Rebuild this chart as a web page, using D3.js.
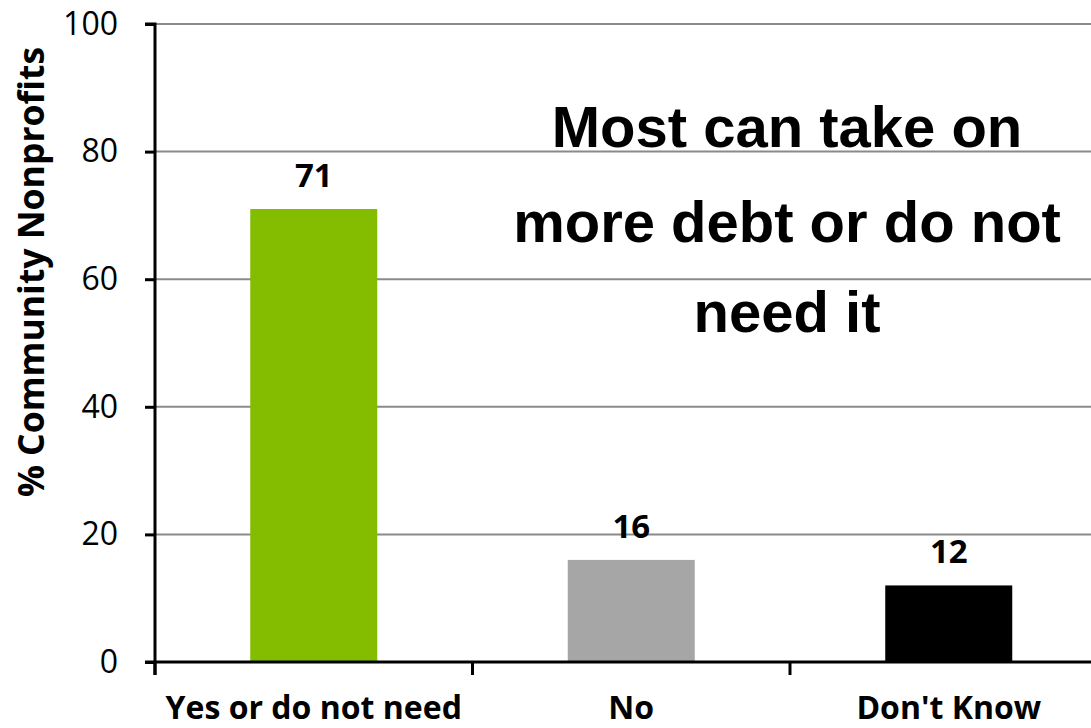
<!DOCTYPE html>
<html>
<head>
<meta charset="utf-8">
<script src="https://cdn.jsdelivr.net/npm/d3@7"></script>
<style>
  html, body { margin: 0; padding: 0; background: #fff; overflow: hidden; }
  svg { display: block; }
</style>
</head>
<body>
<svg id="chart" width="1091" height="728"></svg>
<script>
// Survey answers: can the organisation take on more debt?
const categories = ["Yes or do not need", "No", "Don't Know"];
const values = [71, 16, 12];
const barColors = ["#84bc00", "#a6a6a6", "#000000"];
const yTicks = [0, 20, 40, 60, 80, 100];
const yTitle = "% Community Nonprofits";
const noteLines = ["Most can take on", "more debt or do not", "need it"];

const svg = d3.select("#chart");
const W = 1091, H = 728;

const plot = { left: 155, right: 1107.5, top: 24, bottom: 662 };

const x = d3.scaleBand()
  .domain(categories)
  .range([plot.left, plot.right])
  .paddingInner(0.6)
  .paddingOuter(0.3);

const y = d3.scaleLinear()
  .domain([0, 100])
  .range([plot.bottom, plot.top]);

// horizontal gridlines
svg.append("g")
  .selectAll("line")
  .data(yTicks.filter(t => t > 0))
  .join("line")
  .attr("x1", plot.left)
  .attr("x2", W)
  .attr("y1", d => y(d))
  .attr("y2", d => y(d))
  .attr("stroke", "#8a8a8a")
  .attr("stroke-width", 2);

// bars
svg.append("g")
  .selectAll("rect")
  .data(values)
  .join("rect")
  .attr("x", (d, i) => x(categories[i]))
  .attr("width", x.bandwidth())
  .attr("y", d => y(d))
  .attr("height", d => y(0) - y(d))
  .attr("fill", (d, i) => barColors[i]);

// value labels above bars
svg.append("g")
  .selectAll("text")
  .data(values)
  .join("text")
  .attr("x", (d, i) => x(categories[i]) + x.bandwidth() / 2)
  .attr("y", d => y(d) - 22)
  .attr("text-anchor", "middle")
  .attr("font-family", "'Open Sans', sans-serif")
  .attr("font-weight", "bold")
  .attr("font-size", 33)
  .attr("fill", "#000")
  .text(d => d);

// y axis
const yAxis = d3.axisLeft(y)
  .tickValues(yTicks)
  .tickSize(10)
  .tickPadding(27);
const gy = svg.append("g")
  .attr("transform", `translate(${plot.left},0)`)
  .call(yAxis);
gy.select(".domain").attr("stroke", "#000").attr("stroke-width", 3)
  .attr("d", `M-10,${plot.top}H0V${plot.bottom + 13}`);
gy.selectAll(".tick line").attr("stroke", "#000").attr("stroke-width", 3);
gy.selectAll(".tick text")
  .attr("font-family", "'Open Sans', sans-serif")
  .attr("font-size", 32)
  .attr("fill", "#000");

// x axis with ticks on band boundaries
const gx = svg.append("g");
gx.append("line")
  .attr("x1", plot.left - 10)
  .attr("x2", W)
  .attr("y1", y(0))
  .attr("y2", y(0))
  .attr("stroke", "#000")
  .attr("stroke-width", 3);
const step = x.step();
const boundaries = categories.map((c, i) => plot.left + i * step);
gx.selectAll("line.bound")
  .data(boundaries)
  .join("line")
  .attr("class", "bound")
  .attr("x1", d => d)
  .attr("x2", d => d)
  .attr("y1", y(0))
  .attr("y2", y(0) + 13)
  .attr("stroke", "#000")
  .attr("stroke-width", 3);
gx.selectAll("text")
  .data(categories)
  .join("text")
  .attr("x", d => x(d) + x.bandwidth() / 2)
  .attr("y", 719)
  .attr("text-anchor", "middle")
  .attr("font-family", "'Open Sans', sans-serif")
  .attr("font-weight", "bold")
  .attr("font-size", 32)
  .attr("fill", "#000")
  .text(d => d);

// y axis title
svg.append("text")
  .attr("transform", "translate(44,272) rotate(-90)")
  .attr("text-anchor", "middle")
  .attr("font-family", "'Open Sans', sans-serif")
  .attr("font-weight", "bold")
  .attr("font-size", 35.5)
  .attr("fill", "#000")
  .text(yTitle);

// annotation
const noteBaselines = [147, 242, 332];
svg.append("g")
  .selectAll("text")
  .data(noteLines)
  .join("text")
  .attr("x", 787)
  .attr("y", (d, i) => noteBaselines[i])
  .attr("text-anchor", "middle")
  .attr("font-family", "'Liberation Sans', Arial, sans-serif")
  .attr("font-weight", "bold")
  .attr("font-size", 58)
  .attr("fill", "#000")
  .text(d => d);
</script>
</body>
</html>
